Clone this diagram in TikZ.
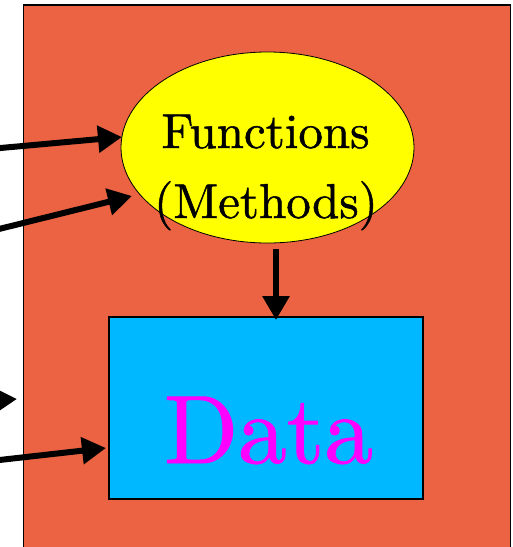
\documentclass[tikz,border=0pt]{standalone}
\usepackage{fontspec}
\newfontfamily\lmten{lmroman10-regular.otf}[FakeBold=1]
\usetikzlibrary{arrows.meta,shapes.geometric}
\definecolor{frameorange}{RGB}{235,99,66}
\definecolor{databox}{RGB}{0,184,255}
\definecolor{funcyellow}{RGB}{255,255,0}
\definecolor{datamagenta}{RGB}{255,0,255}
\begin{document}
\begin{tikzpicture}[x=1pt,y=-1pt,
  bigarrow/.style={line width=6pt,-{Triangle[length=24pt,width=26pt]}},
  funcnode/.style={ellipse,draw=black,line width=0.8pt,fill=funcyellow,minimum width=293pt,minimum height=191pt,inner sep=0pt},
  databoxstyle/.style={draw=black,line width=1.2pt,fill=databox,minimum width=314pt,minimum height=182pt,inner sep=0pt},
  outerbox/.style={draw=black,line width=1.2pt,fill=frameorange}]
\useasboundingbox (0,0) rectangle (513,547);
\draw[outerbox] (23.5,5) rectangle (510.5,560);
\node[databoxstyle] (data) at (266,408) {};
\node[text=datamagenta,font=\lmten\fontsize{97}{110}\selectfont,anchor=base] (datatext) at (268.5,463) {Data};
\node[funcnode] (func) at (267.5,147.5) {};
\node[font=\lmten\fontsize{49}{70}\selectfont,anchor=base] (ftext) at (265.5,148) {Functions};
\node[font=\lmten\fontsize{49}{70}\selectfont,anchor=base] (mtext) at (266,218) {(Methods)};
\coordinate (s1) at (-5,148.5);
\coordinate (t1) at (122,137);
\coordinate (s2) at (-5,230);
\coordinate (t2) at (132,196);
\coordinate (s3) at (-60,404);
\coordinate (t3) at (17,399);
\coordinate (s4) at (-5,460.5);
\coordinate (t4) at (106,448);
\coordinate (s5) at (276,249);
\coordinate (t5) at (276,320);
\draw[bigarrow] (s1) -- (t1);
\draw[bigarrow] (s2) -- (t2);
\draw[bigarrow] (s3) -- (t3);
\draw[bigarrow] (s4) -- (t4);
\draw[bigarrow] (s5) -- (t5);
\end{tikzpicture}
\end{document}
